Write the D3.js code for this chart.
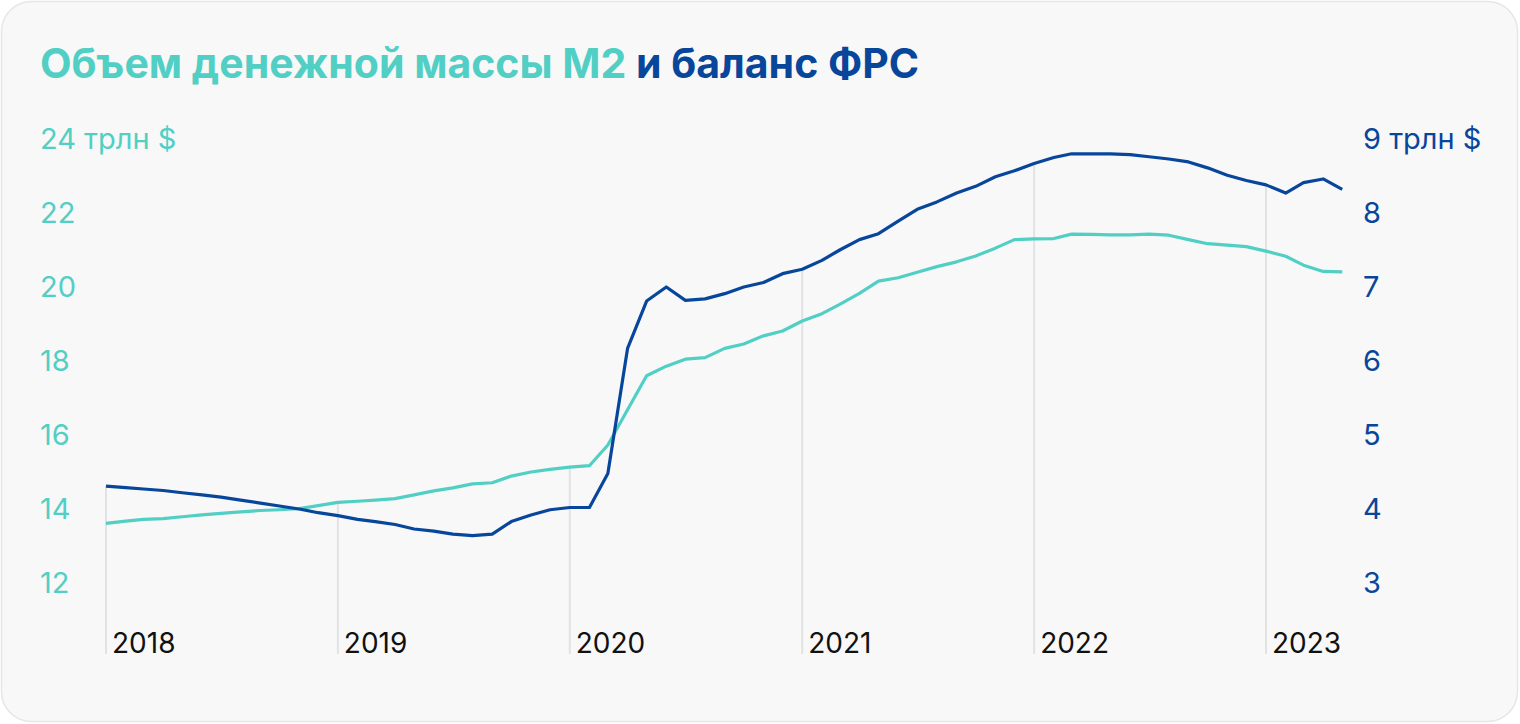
<!DOCTYPE html>
<html><head><meta charset="utf-8">
<script src="https://cdn.jsdelivr.net/npm/d3@7"></script>
<style>
html,body{margin:0;padding:0;background:#fff;}
svg{display:block;}
</style></head>
<body>
<svg id="chart" width="1520" height="724"></svg>
<script>
// Monthly data, Jan 2018 – May 2023
const startYear = 2018;
const m2Values = [
 13.61,13.67,13.72,13.74,13.79,13.84,13.88,13.92,13.96,13.98,14.01,14.09,
 14.18,14.21,14.24,14.28,14.38,14.49,14.57,14.68,14.71,14.89,15.00,15.07,
 15.13,15.17,15.73,16.68,17.60,17.86,18.05,18.09,18.34,18.46,18.68,18.81,
 19.08,19.28,19.53,19.83,20.16,20.25,20.40,20.55,20.68,20.84,21.05,21.28,
 21.30,21.31,21.43,21.42,21.41,21.41,21.43,21.40,21.28,21.17,21.13,21.09,
 20.97,20.83,20.59,20.42,20.41
];
const fedValues = [
 4.31,4.29,4.27,4.25,4.22,4.19,4.16,4.12,4.08,4.04,4.00,3.95,
 3.91,3.86,3.83,3.79,3.73,3.70,3.66,3.64,3.66,3.83,3.92,3.99,
 4.02,4.02,4.48,6.17,6.81,7.00,6.82,6.84,6.91,7.00,7.06,7.18,
 7.24,7.36,7.50,7.64,7.72,7.89,8.05,8.15,8.27,8.36,8.49,8.57,
 8.67,8.75,8.80,8.80,8.80,8.79,8.76,8.73,8.69,8.61,8.51,8.44,
 8.38,8.27,8.41,8.46,8.32
];
const leftTicks = [12,14,16,18,20,22,24];
const rightTicks = [3,4,5,6,7,8,9];
const yearTicks = [2018,2019,2020,2021,2022,2023];
const titlePart1 = "Объем денежной массы M2";
const titlePart2 = " и баланс ФРС";
const unit = " трлн $";

const TEAL = "#52cfc4", BLUE = "#07469b";
const svg = d3.select("#chart");

svg.append("rect").attr("x",1.5).attr("y",1.5).attr("width",1516).attr("height",720)
  .attr("rx",30).attr("fill","#f8f8f8").attr("stroke","#e6e6e6").attr("stroke-width",1.5);

const title = svg.append("text").attr("x",40).attr("y",78)
  .attr("font-family","Inter, 'Noto Sans', sans-serif").attr("font-weight",700).attr("font-size",41);
title.append("tspan").attr("fill",TEAL).text(titlePart1);
title.append("tspan").attr("fill",BLUE).text(titlePart2);

const dates = m2Values.map((d,i)=>new Date(startYear, i, 1));
const x = d3.scaleTime().domain([new Date(2018,0,1), new Date(2023,0,1)]).range([106,1266]);
const yL = d3.scaleLinear().domain([12,24]).range([583,139]);
const yR = d3.scaleLinear().domain([3,9]).range([583,139]);

// vertical year gridlines: from the upper line down to the bottom
const gBottom = 654;
svg.append("g").selectAll("line").data(yearTicks).join("line")
  .attr("x1",d=>x(new Date(d,0,1))).attr("x2",d=>x(new Date(d,0,1)))
  .attr("y1",d=>{const i=(d-startYear)*12; return Math.min(yL(m2Values[i]), yR(fedValues[i]));})
  .attr("y2",gBottom).attr("stroke","#e2e2e2").attr("stroke-width",2);

// year labels
svg.append("g").selectAll("text").data(yearTicks).join("text")
  .attr("x",d=>x(new Date(d,0,1))+6).attr("y",653)
  .attr("font-family","Inter, sans-serif").attr("font-size",28).attr("fill","#111")
  .text(d=>d);

// left axis
const axL = d3.axisLeft(yL).tickValues(leftTicks).tickSize(0).tickPadding(0)
  .tickFormat(d=> d===24 ? d+unit : d);
const gL = svg.append("g").attr("transform","translate(40,0)").call(axL);
gL.select(".domain").remove();
gL.selectAll("text").attr("x",0).attr("text-anchor","start")
  .attr("font-family","Inter, sans-serif").attr("font-size",29).attr("fill",TEAL);

// right axis
const axR = d3.axisRight(yR).tickValues(rightTicks).tickSize(0).tickPadding(0)
  .tickFormat(d=> d===9 ? d+unit : d);
const gR = svg.append("g").attr("transform","translate(1363,0)").call(axR);
gR.select(".domain").remove();
gR.selectAll("text").attr("x",0).attr("text-anchor","start")
  .attr("font-family","Inter, sans-serif").attr("font-size",29).attr("fill",BLUE);

// lines
const lineL = d3.line().x((d,i)=>x(dates[i])).y(d=>yL(d));
const lineR = d3.line().x((d,i)=>x(dates[i])).y(d=>yR(d));
svg.append("path").datum(m2Values).attr("d",lineL).attr("fill","none")
  .attr("stroke",TEAL).attr("stroke-width",3.2).attr("stroke-linejoin","round");
svg.append("path").datum(fedValues).attr("d",lineR).attr("fill","none")
  .attr("stroke",BLUE).attr("stroke-width",3.2).attr("stroke-linejoin","round");
</script>
</body></html>
